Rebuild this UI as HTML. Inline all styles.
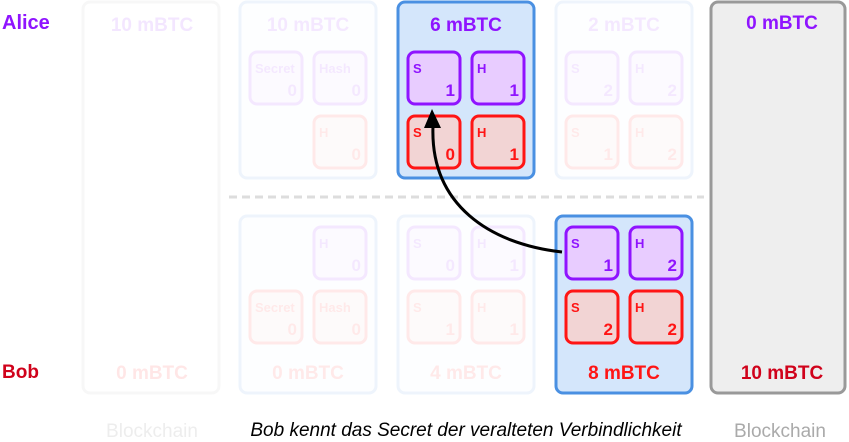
<!DOCTYPE html>
<html><head><meta charset="utf-8"><style>
body{margin:0;background:#fff}
svg{display:block;font-family:"Liberation Sans","DejaVu Sans",sans-serif}
.b{font-weight:bold}
</style></head><body>
<svg width="849" height="442" viewBox="0 0 849 442" xmlns="http://www.w3.org/2000/svg">
<defs>
<g id="ps"><rect x="1" y="1" width="52" height="52" rx="7" fill="#e8ccff" stroke="#8f14ff" stroke-width="3"/></g>
<g id="rs"><rect x="1" y="1" width="52" height="52" rx="7" fill="#f2d4d4" stroke="#ff1515" stroke-width="3"/></g>
</defs>
<text x="2" y="29" font-size="20" class="b" fill="#8f14ff">Alice</text>
<text x="2" y="378" font-size="19" class="b" fill="#d0021b">Bob</text>

<!-- faint column 1 -->
<g opacity="0.1">
<rect x="83" y="2" width="136" height="391" rx="7" fill="#fff" stroke="#bbb" stroke-width="3"/>
<text x="152" y="31" font-size="19" class="b" fill="#8f14ff" text-anchor="middle">10 mBTC</text>
<text x="152" y="379" font-size="19" class="b" fill="#ff1515" text-anchor="middle">0 mBTC</text>
</g>
<text x="152" y="437" font-size="19" fill="#ccc" opacity="0.35" text-anchor="middle">Blockchain</text>

<!-- faint column 2 -->
<g opacity="0.09">
<rect x="240" y="2" width="136" height="176" rx="7" fill="#eef5ff" stroke="#4a90e2" stroke-width="3"/>
<text x="308" y="31" font-size="19" class="b" fill="#8f14ff" text-anchor="middle">10 mBTC</text>
<use href="#ps" x="249" y="51"/><text x="255" y="73" font-size="13" class="b" fill="#8f14ff">Secret</text><text x="297" y="96" font-size="17" class="b" fill="#8f14ff" text-anchor="end">0</text>
<use href="#ps" x="313" y="51"/><text x="319" y="73" font-size="13" class="b" fill="#8f14ff">Hash</text><text x="361" y="96" font-size="17" class="b" fill="#8f14ff" text-anchor="end">0</text>
<use href="#rs" x="313" y="115"/><text x="319" y="137" font-size="13" class="b" fill="#ff1515">H</text><text x="361" y="160" font-size="17" class="b" fill="#ff1515" text-anchor="end">0</text>

<rect x="240" y="216" width="136" height="177" rx="7" fill="#eef5ff" stroke="#4a90e2" stroke-width="3"/>
<use href="#ps" x="313" y="226"/><text x="319" y="248" font-size="13" class="b" fill="#8f14ff">H</text><text x="361" y="271" font-size="17" class="b" fill="#8f14ff" text-anchor="end">0</text>
<use href="#rs" x="249" y="290"/><text x="255" y="312" font-size="13" class="b" fill="#ff1515">Secret</text><text x="297" y="335" font-size="17" class="b" fill="#ff1515" text-anchor="end">0</text>
<use href="#rs" x="313" y="290"/><text x="319" y="312" font-size="13" class="b" fill="#ff1515">Hash</text><text x="361" y="335" font-size="17" class="b" fill="#ff1515" text-anchor="end">0</text>
<text x="308" y="379" font-size="19" class="b" fill="#ff1515" text-anchor="middle">0 mBTC</text>

<!-- col3 bottom faint -->
<rect x="398" y="216" width="136" height="177" rx="7" fill="#eef5ff" stroke="#4a90e2" stroke-width="3"/>
<use href="#ps" x="407" y="226"/><text x="413" y="248" font-size="13" class="b" fill="#8f14ff">S</text><text x="455" y="271" font-size="17" class="b" fill="#8f14ff" text-anchor="end">0</text>
<use href="#ps" x="471" y="226"/><text x="477" y="248" font-size="13" class="b" fill="#8f14ff">H</text><text x="519" y="271" font-size="17" class="b" fill="#8f14ff" text-anchor="end">1</text>
<use href="#rs" x="407" y="290"/><text x="413" y="312" font-size="13" class="b" fill="#ff1515">S</text><text x="455" y="335" font-size="17" class="b" fill="#ff1515" text-anchor="end">1</text>
<use href="#rs" x="471" y="290"/><text x="477" y="312" font-size="13" class="b" fill="#ff1515">H</text><text x="519" y="335" font-size="17" class="b" fill="#ff1515" text-anchor="end">1</text>
<text x="466" y="379" font-size="19" class="b" fill="#ff1515" text-anchor="middle">4 mBTC</text>

<!-- col4 top faint -->
<rect x="556" y="2" width="136" height="176" rx="7" fill="#eef5ff" stroke="#4a90e2" stroke-width="3"/>
<text x="624" y="31" font-size="19" class="b" fill="#8f14ff" text-anchor="middle">2 mBTC</text>
<use href="#ps" x="565" y="51"/><text x="571" y="73" font-size="13" class="b" fill="#8f14ff">S</text><text x="613" y="96" font-size="17" class="b" fill="#8f14ff" text-anchor="end">2</text>
<use href="#ps" x="629" y="51"/><text x="635" y="73" font-size="13" class="b" fill="#8f14ff">H</text><text x="677" y="96" font-size="17" class="b" fill="#8f14ff" text-anchor="end">2</text>
<use href="#rs" x="565" y="115"/><text x="571" y="137" font-size="13" class="b" fill="#ff1515">S</text><text x="613" y="160" font-size="17" class="b" fill="#ff1515" text-anchor="end">1</text>
<use href="#rs" x="629" y="115"/><text x="635" y="137" font-size="13" class="b" fill="#ff1515">H</text><text x="677" y="160" font-size="17" class="b" fill="#ff1515" text-anchor="end">2</text>
</g>

<line x1="229" y1="197" x2="704" y2="197" stroke="#ddd" stroke-width="3" stroke-dasharray="8,5"/>

<!-- col3 top active -->
<rect x="398" y="2" width="136" height="176" rx="7" fill="#d4e6fb" stroke="#4a90e2" stroke-width="3"/>
<text x="466" y="31" font-size="19" class="b" fill="#8f14ff" text-anchor="middle">6 mBTC</text>
<use href="#ps" x="407" y="51"/><text x="413" y="73" font-size="13" class="b" fill="#8f14ff">S</text><text x="455" y="96" font-size="17" class="b" fill="#8f14ff" text-anchor="end">1</text>
<use href="#ps" x="471" y="51"/><text x="477" y="73" font-size="13" class="b" fill="#8f14ff">H</text><text x="519" y="96" font-size="17" class="b" fill="#8f14ff" text-anchor="end">1</text>
<use href="#rs" x="407" y="115"/><text x="413" y="137" font-size="13" class="b" fill="#ff1515">S</text><text x="455" y="160" font-size="17" class="b" fill="#ff1515" text-anchor="end">0</text>
<use href="#rs" x="471" y="115"/><text x="477" y="137" font-size="13" class="b" fill="#ff1515">H</text><text x="519" y="160" font-size="17" class="b" fill="#ff1515" text-anchor="end">1</text>

<!-- col4 bottom active -->
<rect x="556" y="216" width="136" height="177" rx="7" fill="#d4e6fb" stroke="#4a90e2" stroke-width="3"/>
<use href="#ps" x="565" y="226"/><text x="571" y="248" font-size="13" class="b" fill="#8f14ff">S</text><text x="613" y="271" font-size="17" class="b" fill="#8f14ff" text-anchor="end">1</text>
<use href="#ps" x="629" y="226"/><text x="635" y="248" font-size="13" class="b" fill="#8f14ff">H</text><text x="677" y="271" font-size="17" class="b" fill="#8f14ff" text-anchor="end">2</text>
<use href="#rs" x="565" y="290"/><text x="571" y="312" font-size="13" class="b" fill="#ff1515">S</text><text x="613" y="335" font-size="17" class="b" fill="#ff1515" text-anchor="end">2</text>
<use href="#rs" x="629" y="290"/><text x="635" y="312" font-size="13" class="b" fill="#ff1515">H</text><text x="677" y="335" font-size="17" class="b" fill="#ff1515" text-anchor="end">2</text>
<text x="624" y="379" font-size="19" class="b" fill="#ff1515" text-anchor="middle">8 mBTC</text>

<!-- blockchain -->
<rect x="711" y="2" width="134" height="391" rx="7" fill="#eee" stroke="#999" stroke-width="3"/>
<text x="782" y="29" font-size="19" class="b" fill="#8f14ff" text-anchor="middle">0 mBTC</text>
<text x="782" y="379" font-size="19" class="b" fill="#d0021b" text-anchor="middle">10 mBTC</text>
<text x="780" y="437" font-size="19" fill="#aaa" text-anchor="middle">Blockchain</text>

<!-- arrow -->
<path d="M562,252 C490,244 430,205 433,126" fill="none" stroke="#000" stroke-width="3"/>
<polygon points="432,109 424,128 441,128" fill="#000"/>

<text x="466" y="436" font-size="19" font-style="italic" fill="#000" text-anchor="middle">Bob kennt das Secret der veralteten Verbindlichkeit</text>
</svg>
</body></html>
